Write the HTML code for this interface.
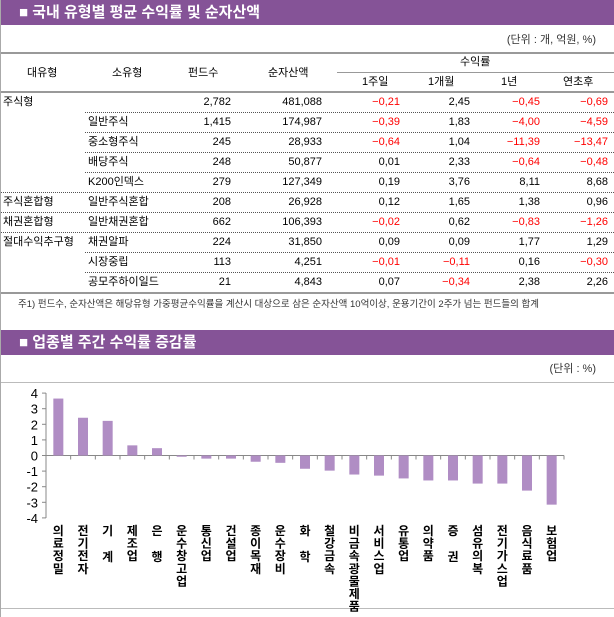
<!DOCTYPE html>
<html><head><meta charset="utf-8"><style>
*{margin:0;padding:0;box-sizing:border-box}
body{width:614px;height:617px;background:#fff;position:relative;overflow:hidden;font-family:"Liberation Sans","Noto Sans CJK KR",sans-serif;font-size:11px;color:#000}
.bar{position:absolute;left:1px;width:613px;height:25px;background:#855397;color:#fff;font-size:15px;font-weight:bold;line-height:25px;padding-left:18px}
.t{position:absolute;white-space:nowrap;line-height:14px}
.r{text-align:right}
.red{color:#f00}
.hl{position:absolute;left:1px;width:613px;height:0}
</style></head><body>
<div style="position:absolute;left:0;top:0;width:1px;height:617px;background:#aaa"></div>
<div class="bar" style="top:0">■ 국내 유형별 평균 수익률 및 순자산액</div>
<div class="t" style="right:18px;top:33px;color:#333">(단위 : 개, 억원, %)</div>
<div class="hl" style="top:52px;border-top:2px solid #999"></div>
<div class="hl" style="top:72px;left:337px;width:277px;border-top:1px solid #999"></div>
<div class="hl" style="top:91px;border-top:2px solid #999"></div>
<div class="t" style="left:27px;top:66px">대유형</div>
<div class="t" style="left:112px;top:66px">소유형</div>
<div class="t" style="left:188px;top:66px">펀드수</div>
<div class="t" style="left:268px;top:66px">순자산액</div>
<div class="t" style="left:460px;top:55px">수익률</div>
<div class="t" style="left:362px;top:75px">1주일</div>
<div class="t" style="left:428px;top:75px">1개월</div>
<div class="t" style="left:501px;top:75px">1년</div>
<div class="t" style="left:563px;top:75px">연초후</div>
<div id="rows"></div>
<div class="hl" style="top:292px;border-top:2px solid #999"></div>
<div class="t" style="left:18px;top:298px;font-size:9.5px;color:#333">주1) 펀드수, 순자산액은 해당유형 가중평균수익률을 계산시 대상으로 삼은 순자산액 10억이상, 운용기간이 2주가 넘는 펀드들의 합계</div>
<div class="bar" style="top:330px">■ 업종별 주간 수익률 증감률</div>
<div class="t" style="right:18px;top:362px;color:#333">(단위 : %)</div>
<div class="hl" style="top:382px;border-top:1px solid #bbb"></div>
<div class="hl" style="top:608px;border-top:1px solid #bbb"></div>
<svg style="position:absolute;left:0;top:0" width="614" height="617" id="ch"></svg>
<script>
var rows=[
["주식형","","2,782","481,088","-0.21","2.45","-0.45","-0.69"],
["","일반주식","1,415","174,987","-0.39","1.83","-4.00","-4.59"],
["","중소형주식","245","28,933","-0.64","1.04","-11.39","-13.47"],
["","배당주식","248","50,877","0.01","2.33","-0.64","-0.48"],
["","K200인덱스","279","127,349","0.19","3.76","8.11","8.68"],
["주식혼합형","일반주식혼합","208","26,928","0.12","1.65","1.38","0.96"],
["채권혼합형","일반채권혼합","662","106,393","-0.02","0.62","-0.83","-1.26"],
["절대수익추구형","채권알파","224","31,850","0.09","0.09","1.77","1.29"],
["","시장중립","113","4,251","-0.01","-0.11","0.16","-0.30"],
["","공모주하이일드","21","4,843","0.07","-0.34","2.38","2.26"]];
var rights=[231,322,400,470,540,608],h="";
rows.forEach(function(r,i){var y=95+i*20;
if(r[0])h+='<div class="t" style="left:3px;top:'+y+'px">'+r[0]+'</div>';
if(r[1])h+='<div class="t" style="left:88px;top:'+y+'px">'+r[1]+'</div>';
for(var j=2;j<8;j++){var v=r[j],neg=v[0]=='-';h+='<div class="t r'+(neg&&j>=4?' red':'')+'" style="right:'+(614-rights[j-2])+'px;top:'+y+'px">'+(neg?'−'+v.slice(1):v).replace(/\./g,',')+'</div>';}
if(i<9){var full=[4,5,6].indexOf(i)>=0;h+='<div class="hl" style="top:'+(y+17)+'px;left:'+(full?1:85)+'px;width:'+(full?613:529)+'px;border-top:1px dotted #555"></div>';}
});
document.getElementById('rows').innerHTML=h;
var cats=["의료정밀","전기전자","기 계","제조업","은 행","운수창고업","통신업","건설업","종이목재","운수장비","화 학","철강금속","비금속광물제품","서비스업","유통업","의약품","증 권","섬유의복","전기가스업","음식료품","보험업"];
var vals=[3.65,2.42,2.22,0.65,0.47,-0.08,-0.2,-0.2,-0.4,-0.47,-0.85,-0.97,-1.22,-1.29,-1.47,-1.6,-1.6,-1.8,-1.8,-2.25,-3.15];
var x0=46,x1=564,z=455.5,u=15.6,w=(x1-x0)/21,s="";
s+='<line x1="'+x0+'" y1="393" x2="'+x0+'" y2="518" stroke="#888"/>';
s+='<line x1="'+x0+'" y1="'+z+'" x2="'+x1+'" y2="'+z+'" stroke="#888"/>';
for(var k=-4;k<=4;k++){var y=z-k*u;s+='<line x1="'+(x0-4)+'" y1="'+y+'" x2="'+x0+'" y2="'+y+'" stroke="#888"/><text x="'+(x0-8)+'" y="'+(y+5)+'" text-anchor="end" font-size="13" font-family="Liberation Sans,sans-serif">'+k+'</text>';}
for(var i=0;i<=21;i++){var x=x0+i*w;s+='<line x1="'+x+'" y1="'+z+'" x2="'+x+'" y2="'+(z+4)+'" stroke="#888"/>';}
cats.forEach(function(c,i){var cx=x0+w*(i+.5),v=vals[i],y=v>0?z-v*u:z,hh=Math.abs(v)*u;
s+='<rect x="'+(cx-5)+'" y="'+y+'" width="10" height="'+hh+'" fill="#b08dc4"/>';
var ch=c.replace(' ','').split(''),sp=c.indexOf(' ')>=0;
ch.forEach(function(t,j){var yy=535+j*(sp?26:12.6);s+='<text x="'+cx+'" y="'+yy+'" text-anchor="middle" font-size="12" font-weight="bold" font-family="Liberation Sans,Noto Sans CJK KR,sans-serif">'+t+'</text>';});
});
document.getElementById('ch').innerHTML=s;
</script>
</body></html>
